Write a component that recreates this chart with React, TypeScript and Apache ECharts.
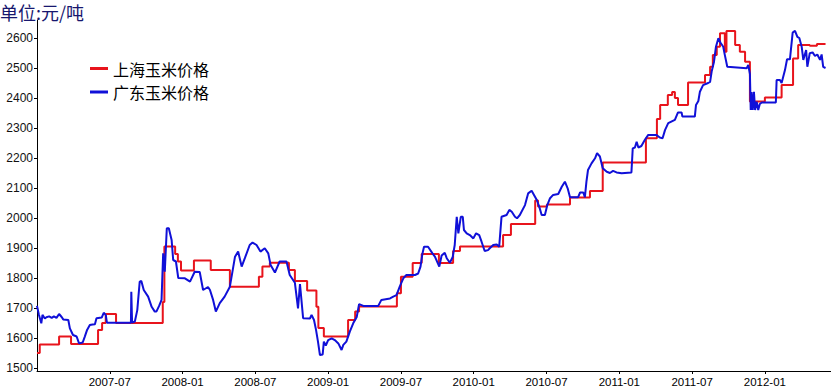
import React, { useEffect, useRef } from 'react';
import * as echarts from 'echarts';

// 上海玉米价格 (step changes: value holds until next date)
const shDates = [
  '2007-01-01','2007-01-08','2007-02-24','2007-03-26','2007-06-02','2007-06-12','2007-06-21','2007-07-17',
  '2007-11-12','2007-11-16','2007-12-13','2007-12-20','2007-12-28','2008-01-30','2008-03-11','2008-04-28',
  '2008-07-10','2008-07-19','2008-08-07','2008-09-24','2008-10-09','2008-11-09','2008-12-02','2008-12-07',
  '2008-12-21','2009-02-19','2009-03-08','2009-03-18','2009-06-21','2009-07-01','2009-07-31','2009-08-23',
  '2009-10-05','2009-11-10','2009-11-27','2010-03-14','2010-04-03','2010-06-03','2010-06-10','2010-07-02',
  '2010-08-30','2010-10-19','2010-11-20','2011-03-07','2011-04-04','2011-04-12','2011-05-01','2011-05-12',
  '2011-05-19','2011-05-27','2011-06-21','2011-08-03','2011-08-16','2011-08-23','2011-09-02','2011-09-10',
  '2011-09-22','2011-09-26','2011-10-18','2011-10-30','2011-11-12','2011-11-24','2012-01-01','2012-02-12',
  '2012-03-11','2012-03-24','2012-04-22','2012-05-10','2012-06-01',
];
const shValues = [
  1550, 1578, 1605, 1580, 1627, 1650, 1680, 1650,
  1720, 1905, 1880, 1855, 1825, 1858, 1827, 1771,
  1804, 1838, 1851, 1827, 1790, 1758, 1704, 1633,
  1605, 1660, 1688, 1705, 1749, 1804, 1850, 1880,
  1850, 1890, 1905, 1943, 1980, 2058, 2038, 2045,
  2068, 2090, 2185, 2266, 2330, 2377, 2410, 2420,
  2400, 2377, 2452, 2477, 2504, 2543, 2571, 2616,
  2554, 2623, 2577, 2554, 2521, 2388, 2402, 2443,
  2532, 2577, 2574, 2580, 2580,
];

// 广东玉米价格
const gdDates = [
  '2007-01-01','2007-01-06','2007-01-12','2007-01-15','2007-01-21','2007-01-25','2007-02-01','2007-02-07',
  '2007-02-12','2007-02-18','2007-02-24','2007-03-02','2007-03-06','2007-03-19','2007-03-23','2007-03-31',
  '2007-04-09','2007-04-15','2007-04-24','2007-04-29','2007-05-05','2007-05-12','2007-05-19','2007-05-25',
  '2007-05-29','2007-06-11','2007-06-16','2007-06-21','2007-06-24','2007-08-24','2007-08-25','2007-08-27',
  '2007-09-03','2007-09-09','2007-09-15','2007-09-19','2007-09-25','2007-10-06','2007-10-15','2007-10-23',
  '2007-10-27','2007-11-03','2007-11-09','2007-11-13','2007-11-17','2007-11-22','2007-11-27','2007-12-04',
  '2007-12-08','2007-12-15','2007-12-21','2008-01-07','2008-01-20','2008-02-01','2008-02-13','2008-02-21',
  '2008-03-04','2008-03-09','2008-03-17','2008-03-24','2008-04-03','2008-04-15','2008-04-28','2008-05-11',
  '2008-05-19','2008-05-28','2008-06-05','2008-06-17','2008-06-24','2008-07-04','2008-07-14','2008-07-25',
  '2008-08-03','2008-08-09','2008-08-20','2008-09-01','2008-09-18','2008-09-26','2008-10-09','2008-10-17',
  '2008-10-22','2008-10-30','2008-11-16','2008-11-20','2008-11-26','2008-12-01','2008-12-06','2008-12-11',
  '2008-12-18','2008-12-21','2008-12-26','2009-01-01','2009-01-10','2009-01-18','2009-01-27','2009-02-04',
  '2009-02-08','2009-02-15','2009-02-23','2009-03-03','2009-03-12','2009-03-18','2009-03-29','2009-05-05',
  '2009-05-13','2009-06-04','2009-06-12','2009-06-20','2009-06-28','2009-07-07','2009-07-15','2009-08-06',
  '2009-08-14','2009-08-20','2009-08-25','2009-08-29','2009-09-08','2009-09-19','2009-09-25','2009-10-06',
  '2009-10-12','2009-10-20','2009-10-25','2009-11-02','2009-11-09','2009-11-14','2009-11-19','2009-11-23',
  '2009-11-29','2009-12-04','2009-12-07','2009-12-14','2009-12-22','2009-12-31','2010-01-07','2010-01-15',
  '2010-01-21','2010-01-29','2010-02-06','2010-02-10','2010-02-18','2010-02-26','2010-03-04','2010-03-10',
  '2010-03-23','2010-03-30','2010-04-05','2010-04-13','2010-04-18','2010-04-25','2010-05-08','2010-05-16',
  '2010-05-25','2010-05-31','2010-06-07','2010-06-13','2010-06-19','2010-06-27','2010-07-03','2010-07-10',
  '2010-07-18','2010-07-31','2010-08-09','2010-08-17','2010-08-24','2010-08-30','2010-09-19','2010-09-24',
  '2010-10-02','2010-10-06','2010-10-10','2010-10-14','2010-10-23','2010-11-01','2010-11-06','2010-11-13',
  '2010-11-20','2010-11-30','2010-12-08','2010-12-16','2010-12-25','2011-01-07','2011-02-01','2011-02-04',
  '2011-02-09','2011-02-13','2011-02-17','2011-02-24','2011-03-04','2011-03-13','2011-04-03','2011-04-11',
  '2011-04-18','2011-04-24','2011-05-02','2011-05-19','2011-05-27','2011-06-05','2011-06-07','2011-07-08',
  '2011-07-11','2011-07-17','2011-07-21','2011-07-29','2011-08-11','2011-08-16','2011-08-20','2011-08-26',
  '2011-08-31','2011-09-06','2011-09-11','2011-09-18','2011-09-22','2011-09-28','2011-11-16','2011-11-20',
  '2011-11-24','2011-11-26','2011-11-28','2011-12-01','2011-12-04','2011-12-07','2011-12-11','2011-12-15',
  '2011-12-19','2011-12-24','2012-01-29','2012-01-31','2012-02-08','2012-02-12','2012-02-20','2012-02-25',
  '2012-03-03','2012-03-10','2012-03-16','2012-03-22','2012-03-27','2012-04-02','2012-04-06','2012-04-13',
  '2012-04-16','2012-04-22','2012-04-29','2012-05-05','2012-05-11','2012-05-18','2012-05-22','2012-05-26',
  '2012-06-01',
];
const gdValues = [
  1707, 1677, 1649, 1677, 1665, 1669, 1672, 1667,
  1672, 1667, 1680, 1670, 1662, 1660, 1632, 1610,
  1605, 1582, 1585, 1604, 1627, 1643, 1645, 1646,
  1666, 1668, 1684, 1677, 1651, 1651, 1754, 1651,
  1655, 1693, 1788, 1790, 1760, 1738, 1704, 1688,
  1688, 1707, 1727, 1882, 1821, 1966, 1966, 1927,
  1860, 1855, 1800, 1799, 1788, 1821, 1820, 1760,
  1770, 1760, 1727, 1688, 1716, 1738, 1771, 1871,
  1888, 1838, 1866, 1910, 1918, 1910, 1888, 1899,
  1882, 1843, 1818, 1855, 1855, 1810, 1784, 1699,
  1780, 1666, 1665, 1677, 1660, 1627, 1588, 1543,
  1545, 1588, 1575, 1593, 1599, 1593, 1582, 1560,
  1577, 1588, 1621, 1649, 1670, 1713, 1707, 1707,
  1727, 1732, 1738, 1743, 1771, 1799, 1810, 1810,
  1815, 1838, 1882, 1904, 1904, 1882, 1871, 1838,
  1875, 1884, 1866, 1851, 1870, 1910, 2004, 1949,
  2004, 2004, 1960, 1949, 1943, 1932, 1949, 1943,
  1921, 1890, 1893, 1899, 1910, 1912, 1904, 2004,
  2010, 2027, 2021, 2004, 1999, 2010, 2043, 2082,
  2091, 2077, 2060, 2038, 2010, 2010, 2043, 2066,
  2077, 2080, 2104, 2121, 2099, 2069, 2069, 2085,
  2085, 2069, 2121, 2160, 2182, 2199, 2216, 2205,
  2166, 2154, 2150, 2157, 2152, 2149, 2152, 2232,
  2235, 2254, 2235, 2240, 2260, 2277, 2277, 2268,
  2266, 2293, 2316, 2327, 2352, 2352, 2338, 2338,
  2377, 2390, 2421, 2443, 2450, 2454, 2488, 2521,
  2571, 2599, 2585, 2571, 2543, 2504, 2499, 2510,
  2480, 2360, 2420, 2360, 2421, 2360, 2388, 2360,
  2380, 2385, 2385, 2460, 2460, 2450, 2493, 2529,
  2529, 2618, 2624, 2604, 2600, 2571, 2527, 2560,
  2504, 2549, 2552, 2540, 2545, 2527, 2545, 2504,
  2500,
];

const yTickValues = [1500, 1600, 1700, 1800, 1900, 2000, 2100, 2200, 2300, 2400, 2500, 2600];
const xTickLabels = ['2007-07', '2008-01', '2008-07', '2009-01', '2009-07', '2010-01', '2010-07', '2011-01', '2011-07', '2012-01'];

const START_YEAR = 2007;

function toMonths(d: string): number {
  const [y, m, day] = d.split('-').map(Number);
  const dim = new Date(Date.UTC(y, m, 0)).getUTCDate();
  return (y - START_YEAR) * 12 + (m - 1) + ((day || 1) - 1) / dim;
}

function monthsToLabel(v: number): string {
  const mi = Math.round(v);
  const y = START_YEAR + Math.floor(mi / 12);
  const m = (mi % 12) + 1;
  return `${y}-${m < 10 ? '0' + m : m}`;
}

export default function App() {
  const ref = useRef<HTMLDivElement>(null);

  useEffect(() => {
    if (!ref.current) return;
    const chart = echarts.init(ref.current, undefined, { renderer: 'svg' });
    const xTickValues = xTickLabels.map((l) => toMonths(l + '-01'));
    const shData = shDates.map((d, i) => [toMonths(d), shValues[i]]);
    const gdData = gdDates.map((d, i) => [toMonths(d), gdValues[i]]);
    const font = '"Liberation Sans", Arial, sans-serif';
    const cjk = '"Noto Sans CJK SC", sans-serif';

    chart.setOption({
      animation: false,
      backgroundColor: '#ffffff',
      title: {
        text: '单位:元/吨',
        left: 0,
        top: 3,
        padding: 0,
        textStyle: { fontSize: 18, fontWeight: 'normal', color: '#17176e', fontFamily: cjk, lineHeight: 18 },
      },
      legend: {
        orient: 'vertical',
        left: 90,
        top: 60.5,
        padding: 0,
        itemGap: 7.5,
        itemWidth: 18,
        itemHeight: 3,
        icon: 'rect',
        textStyle: { fontSize: 16, color: '#000', fontFamily: cjk, lineHeight: 16 },
        data: ['上海玉米价格', '广东玉米价格'],
      },
      grid: { left: 37, right: 0, top: 20, bottom: 21, containLabel: false },
      xAxis: {
        type: 'value',
        min: 0,
        max: 65.45,
        splitLine: { show: false },
        axisLine: { show: true, onZero: false, lineStyle: { color: '#000', width: 1 } },
        axisTick: { show: true, length: 3, customValues: xTickValues, lineStyle: { color: '#000' } },
        axisLabel: {
          customValues: xTickValues,
          formatter: (v: number) => monthsToLabel(v),
          fontSize: 11.5,
          color: '#000',
          fontFamily: font,
          margin: 5,
        },
      },
      yAxis: {
        type: 'value',
        min: 1490,
        max: 2660,
        splitLine: { show: false },
        axisLine: { show: true, lineStyle: { color: '#000', width: 1 } },
        axisTick: { show: true, length: 3, customValues: yTickValues, lineStyle: { color: '#000' } },
        axisLabel: {
          customValues: yTickValues,
          formatter: (v: number) => String(v),
          fontSize: 12,
          color: '#111',
          fontFamily: font,
          margin: 4,
        },
      },
      series: [
        {
          name: '上海玉米价格',
          type: 'line',
          step: 'end',
          data: shData,
          showSymbol: false,
          symbol: 'none',
          lineStyle: { color: '#e8141c', width: 2 },
          itemStyle: { color: '#e8141c' },
          z: 2,
        },
        {
          name: '广东玉米价格',
          type: 'line',
          data: gdData,
          showSymbol: false,
          symbol: 'none',
          lineStyle: { color: '#1010d8', width: 2 },
          itemStyle: { color: '#1010d8' },
          z: 3,
        },
      ],
    });

    return () => chart.dispose();
  }, []);

  return <div ref={ref} style={{ width: 831, height: 392, position: 'absolute', left: 0, top: 0 }} />;
}
